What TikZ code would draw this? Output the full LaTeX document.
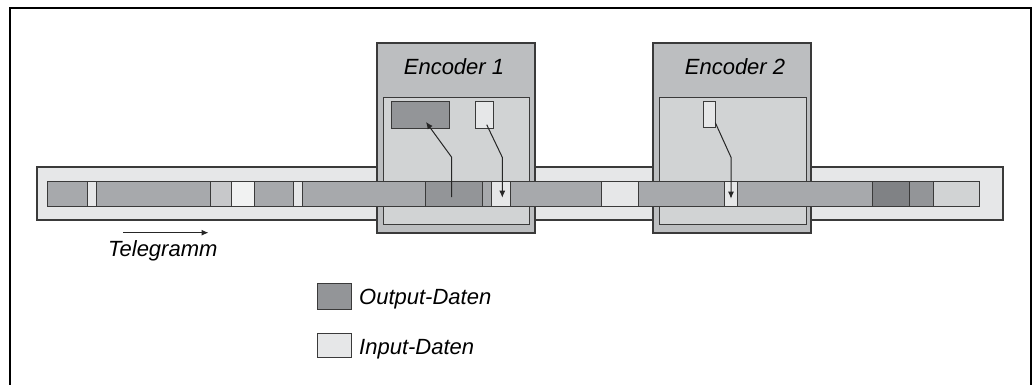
\documentclass[tikz,border=0pt]{standalone}
\usepackage{fontspec}
\setmainfont{Liberation Sans}
\usetikzlibrary{arrows.meta,fit}
\definecolor{edge}{HTML}{3A3A3A}
\definecolor{barbg}{HTML}{E6E7E8}
\definecolor{encout}{HTML}{BCBEC0}
\definecolor{encin}{HTML}{D1D3D4}
\definecolor{sgray}{HTML}{A7A9AC}
\definecolor{sdark}{HTML}{808285}
\definecolor{sout}{HTML}{939598}
\definecolor{slight}{HTML}{E6E7E8}
\definecolor{svlight}{HTML}{F1F2F2}
\definecolor{smid}{HTML}{C7C8CA}
\definecolor{slast}{HTML}{D1D3D4}
\tikzset{
  bx/.style={draw=edge, line width=1pt, inner sep=0pt, outer sep=0pt},
  encbox/.style={bx, fill=encout, line width=1.2pt},
  encinbox/.style={bx, fill=encin},
  arr/.style={draw=black!85, line width=1pt, -{Latex[length=7pt,width=6pt]}},
  lbl/.style={font=\fontsize{22}{26}\selectfont\itshape, inner sep=0pt},
}
\newcommand\rectnode[6][]{\node[bx,#1,fit={(#3,#4) (#5,#6)}] (#2) {};}
\newcommand\segnode[4]{\node[bx,fill=#4,fit={(#2,181) (#3,206)}] (#1) {};}
\begin{document}
\begin{tikzpicture}[x=1pt,y=-1pt]
\useasboundingbox (0,0) rectangle (1036,385);
\fill[white] (0,0) rectangle (1036,385);
% frame
\draw[line width=2.7pt] (10,386) -- (10,8) -- (1031,8) -- (1031,386);
% telegram carrier
\rectnode[fill=barbg,line width=1.2pt]{bar}{37}{167}{1003}{220}
% encoders
\rectnode[encbox]{enc1}{377}{43}{535}{233}
\rectnode[encinbox]{enc1in}{383}{98}{529}{224}
\rectnode[encbox]{enc2}{653}{43}{811}{233}
\rectnode[encinbox]{enc2in}{659}{98}{806}{224}
\node[lbl, anchor=base] (enc1lbl) at (454,75) {Encoder 1};
\node[lbl, anchor=base] (enc2lbl) at (735,75) {Encoder 2};
% data buffers in encoders
\rectnode[fill=sout]{out1}{391}{102}{449}{129}
\rectnode[fill=slight]{in1}{475}{102}{493}{129}
\rectnode[fill=slight]{in2}{703}{102}{715}{128}
% telegram segments
\segnode{s1}{47}{87}{sgray}
\segnode{s2}{87}{96}{slight}
\segnode{s3}{96}{210}{sgray}
\segnode{s4}{210}{231}{smid}
\segnode{s5}{231}{254}{svlight}
\segnode{s6}{254}{293}{sgray}
\segnode{s7}{293}{302}{slight}
\segnode{s8}{302}{425}{sgray}
\segnode{s9}{425}{482}{sout}
\segnode{s10}{482}{491}{sgray}
\segnode{s11}{491}{510}{slight}
\segnode{s12}{510}{601}{sgray}
\segnode{s13}{601}{638}{slight}
\segnode{s14}{638}{724}{sgray}
\segnode{s15}{724}{737}{slight}
\segnode{s16}{737}{872}{sgray}
\segnode{s17}{872}{909}{sdark}
\segnode{s18}{909}{933}{sout}
\segnode{s19}{933}{979}{slast}
% arrows
\coordinate (b1) at (451.7,157.3);
\coordinate (b2) at (502.3,157.3);
\coordinate (b3) at (731,157.3);
\draw[arr] ([xshift=-1.8pt,yshift=-3.5pt]s9.center) -- (b1) -- ([xshift=35pt,yshift=7pt]out1.south west);
\draw[arr] ([xshift=2.7pt,yshift=4.3pt]in1.south) -- (b2) -- ([xshift=1.8pt,yshift=-4.2pt]s11.center);
\draw[arr] ([xshift=0.3pt,yshift=5.3pt]in2.south east) -- (b3) -- ([xshift=0.5pt,yshift=-5.2pt]s15.center);
% telegram direction
\coordinate (t1) at (123,232.7);
\coordinate (t2) at (208.5,232.7);
\draw[arr] (t1) -- (t2);
\node[lbl, anchor=base west] (tlbl) at (108,256.7) {Telegramm};
% legend
\rectnode[fill=sout]{legout}{317}{283}{351}{309}
\rectnode[fill=slight]{legin}{317}{333}{351}{357}
\node[lbl, anchor=base west] (legoutlbl) at (359,304) {Output-Daten};
\node[lbl, anchor=base west] (leginlbl) at (359,354) {Input-Daten};
\end{tikzpicture}
\end{document}
